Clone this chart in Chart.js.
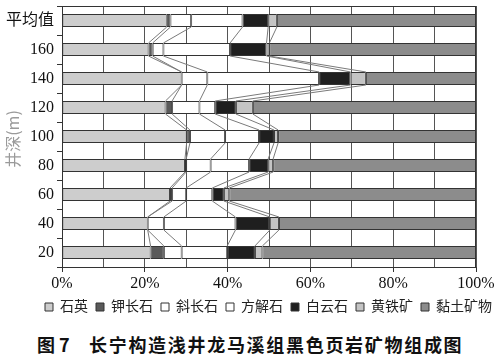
<!DOCTYPE html>
<html>
<head>
<meta charset="utf-8">
<script src="https://cdn.jsdelivr.net/npm/chart.js@4"></script>
<style>
  body { margin: 0; background: #fff; }
  #wrap { position: relative; width: 500px; height: 354px; }
  #box { position: absolute; left: 0; top: 0; width: 500px; height: 324px; }
  .cap { position: absolute; top: 331px; font: bold 18px "Noto Sans CJK SC", sans-serif; color: #111; white-space: nowrap; }
</style>
</head>
<body>
<div id="wrap">
  <div id="box"><canvas id="chart"></canvas></div>
  <div class="cap" style="left:37px">图 7</div>
  <div class="cap" style="left:89px; letter-spacing:1.7px">长宁构造浅井龙马溪组黑色页岩矿物组成图</div>
</div>
<script>
// 井深 (从上到下)
const depths = ['平均值', '160', '140', '120', '100', '80', '60', '40', '20'];
const seriesNames = ['石英', '钾长石', '斜长石', '方解石', '白云石', '黄铁矿', '黏土矿物'];

// 各矿物含量 (%), 按 depths 顺序
const quartz   = [25.3, 20.9, 28.9, 25.0, 30.1, 29.7, 26.1, 20.7, 21.4];
const kfeld    = [0.9, 1.0, 0.0, 1.6, 0.8, 0.3, 0.5, 0.0, 3.2];
const plag     = [5.0, 2.6, 6.2, 6.6, 8.5, 5.9, 3.4, 3.9, 4.3];
const calcite  = [12.4, 16.1, 27.0, 3.8, 8.2, 9.3, 6.3, 17.3, 11.0];
const dolomite = [6.2, 8.8, 7.6, 5.0, 3.6, 4.6, 2.8, 8.3, 6.7];
const pyrite   = [2.1, 0.7, 3.7, 4.1, 1.0, 1.2, 1.3, 2.2, 1.8];
const clay     = [48.1, 49.9, 26.6, 53.9, 47.8, 49.0, 59.6, 47.6, 51.6];

const xTicks = [0, 20, 40, 60, 80, 100];

const colors = ['#cdcdcd', '#5a5a5a', '#ffffff', '#ffffff', '#1f1f1f', '#c4c4c4', '#8c8c8c'];
const values = [quartz, kfeld, plag, calcite, dolomite, pyrite, clay];

// 连接线 (系列线) + 外框 + 纵轴标题
const extras = {
    id: 'extras',
    afterDatasetsDraw(chart) {
        const ctx = chart.ctx;
        ctx.save();
        ctx.strokeStyle = '#7a7a7a';
        ctx.lineWidth = 1;
        for (let d = 0; d < values.length - 1; d++) {
            const bars = chart.getDatasetMeta(d).data;
            for (let i = 0; i < bars.length - 1; i++) {
                const a = bars[i], b = bars[i + 1];
                ctx.beginPath();
                ctx.moveTo(a.x, a.y + a.height / 2);
                ctx.lineTo(b.x, b.y - b.height / 2);
                ctx.stroke();
            }
        }
        const ca = chart.chartArea;
        ctx.strokeStyle = '#333';
        ctx.strokeRect(ca.left + 0.5, ca.top + 0.5, ca.right - ca.left - 1, ca.bottom - ca.top);
        ctx.restore();
    },
    afterDraw(chart) {
        const ctx = chart.ctx;
        ctx.save();
        ctx.translate(13, 139);
        ctx.rotate(-Math.PI / 2);
        ctx.fillStyle = '#9a9a9a';
        ctx.font = '16px "Noto Sans CJK SC", "Liberation Serif"';
        ctx.textAlign = 'center';
        ctx.textBaseline = 'middle';
        ctx.fillText('井深(m)', 0, 0);
        ctx.restore();
    }
};

const ctx1 = document.getElementById('chart').getContext('2d');
new Chart(ctx1, {
    type: 'bar',
    data: {
        labels: depths,
        datasets: seriesNames.map((name, k) => ({
            label: name,
            data: values[k],
            backgroundColor: colors[k],
            borderColor: '#333',
            borderWidth: 1,
            borderSkipped: false,
            categoryPercentage: 1,
            barPercentage: 0.45
        }))
    },
    options: {
        indexAxis: 'y',
        responsive: true,
        maintainAspectRatio: false,
        animation: false,
        layout: { padding: { top: 6, right: 0, left: 0, bottom: 0 } },
        scales: {
            x: {
                stacked: true,
                min: 0,
                max: 100,
                afterBuildTicks: s => { s.ticks = []; for (let v = 0; v <= 100; v += 10) s.ticks.push({ value: v }); },
                ticks: {
                    autoSkip: false,
                    maxRotation: 0,
                    padding: 2,
                    color: '#111',
                    font: { family: '"Liberation Serif", serif', size: 16 },
                    callback: v => xTicks.includes(v) ? v + '%' : ''
                },
                grid: {
                    color: '#555',
                    tickLength: 5,
                    tickColor: c => (c.tick && c.tick.value % 20 === 0) ? '#333' : 'rgba(0,0,0,0)'
                },
                border: { color: '#333' },
                afterFit: s => { s.height = 25; s.paddingLeft = 0; s.paddingRight = 0; }
            },
            y: {
                stacked: true,
                ticks: {
                    padding: 3,
                    color: '#111',
                    font: { family: '"Liberation Serif", "Noto Sans CJK SC", serif', size: 16 }
                },
                grid: { offset: true, drawOnChartArea: false, tickLength: 5, color: '#333' },
                border: { color: '#333' },
                afterFit: s => { s.width = 62; s.paddingTop = 0; s.paddingBottom = 0; }
            },
            // 右侧留白
            yr: {
                axis: 'y',
                position: 'right',
                type: 'linear',
                ticks: { display: false },
                grid: { display: false },
                border: { display: false },
                afterFit: s => { s.width = 24; s.paddingTop = 0; s.paddingBottom = 0; }
            }
        },
        plugins: {
            legend: {
                position: 'bottom',
                align: 'end',
                labels: {
                    boxWidth: 8,
                    boxHeight: 8,
                    padding: 8,
                    color: '#222',
                    font: { family: '"Liberation Serif", "Noto Sans CJK SC", serif', size: 14 }
                }
            },
            tooltip: { enabled: false }
        }
    },
    plugins: [extras]
});
</script>
</body>
</html>
